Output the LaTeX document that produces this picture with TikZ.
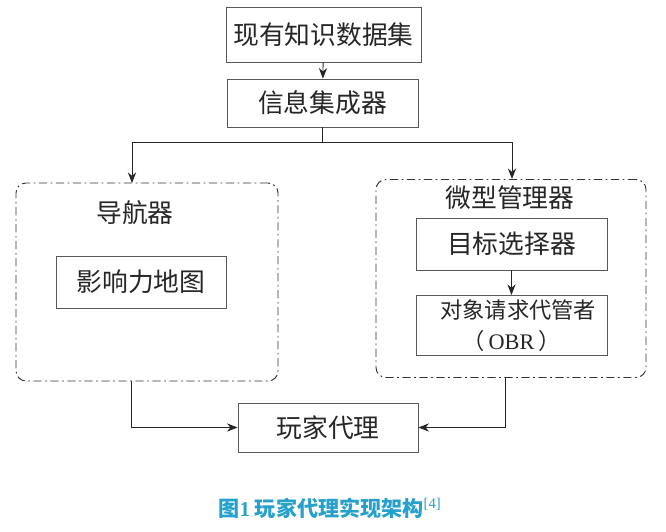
\documentclass[tikz,border=0pt]{standalone}
\usepackage{fontspec}
\setmainfont{Noto Sans CJK SC}
\newfontfamily\latinrm{Liberation Serif}
\usetikzlibrary{arrows.meta, positioning}
\definecolor{capblue}{RGB}{38,160,205}

\begin{document}
\begin{tikzpicture}[
    x=0.03cm, y=-0.03cm,
    >={Stealth[length=9pt, width=7pt]},
    box/.style={draw=black!65, line width=0.7pt, fill=white,
                minimum width=5.73cm, minimum height=1.5cm,
                font=\fontsize{22}{26}\selectfont, text=black!85},
    group/.style={draw=black!80, line width=0.8pt, rounded corners=0.3cm,
                  dash pattern=on 7pt off 3pt on 1.5pt off 3pt},
    lbl/.style={font=\fontsize{22}{26}\selectfont, text=black!85},
    conn/.style={->, draw=black!85, line width=0.8pt}
  ]
  \useasboundingbox (0,0) rectangle (666,532);

  % Knowledge input
  \node[box, minimum width=5.85cm, minimum height=1.65cm] (data) at (323.5,34.5) {现有知识数据集};
  \node[box, minimum height=1.44cm] (info) at (322.5,103) {信息集成器};

  % Navigator
  \node[group, minimum width=7.86cm, minimum height=5.94cm] (nav) at (147,282) {};
  \node[lbl] (navlbl) at (135,213) {导航器};
  \node[box, minimum width=5.1cm, minimum height=1.56cm] (imap) at (141,282) {影响力地图};

  % Micro manager
  \node[group, minimum width=8.1cm, minimum height=5.94cm] (micro) at (511,278.5) {};
  \node[lbl] (microlbl) at (510,198) {微型管理器};
  \node[box, minimum height=1.56cm] (target) at (511.5,244) {目标选择器};
  \node[box, minimum height=1.77cm, align=center,
        font=\fontsize{19}{27}\selectfont] (obr) at (511.5,325.5)
    {\hspace{0.6em}对象请求代管者\\（\,{\latinrm OBR}\,）};

  % Player agent
  \node[box, minimum width=5.4cm, minimum height=1.47cm] (player) at (328,427.5) {玩家代理};

  % Caption
  \node[font=\fontsize{18}{22}\selectfont\bfseries, text=capblue] (cap) at (330,508)
    {图{\latinrm 1} 玩家代理实现架构\textsuperscript{\mdseries\latinrm [4]}};

  % Connectors
  \coordinate (split) at (322.5,142);
  \coordinate (navin) at (132,183);
  \coordinate (microin) at (512,179);
  \coordinate (navout) at (131,381);
  \coordinate (microout) at (505,377);
  \draw[conn] (data) -- (info);
  \draw[conn] (info.south) -- (split) -| (navin);
  \draw[conn] (split) -| (microin);
  \draw[conn] (target) -- (obr);
  \draw[conn] (navout) |- (player.west);
  \draw[conn] (microout) |- (player.east);
\end{tikzpicture}
\end{document}
